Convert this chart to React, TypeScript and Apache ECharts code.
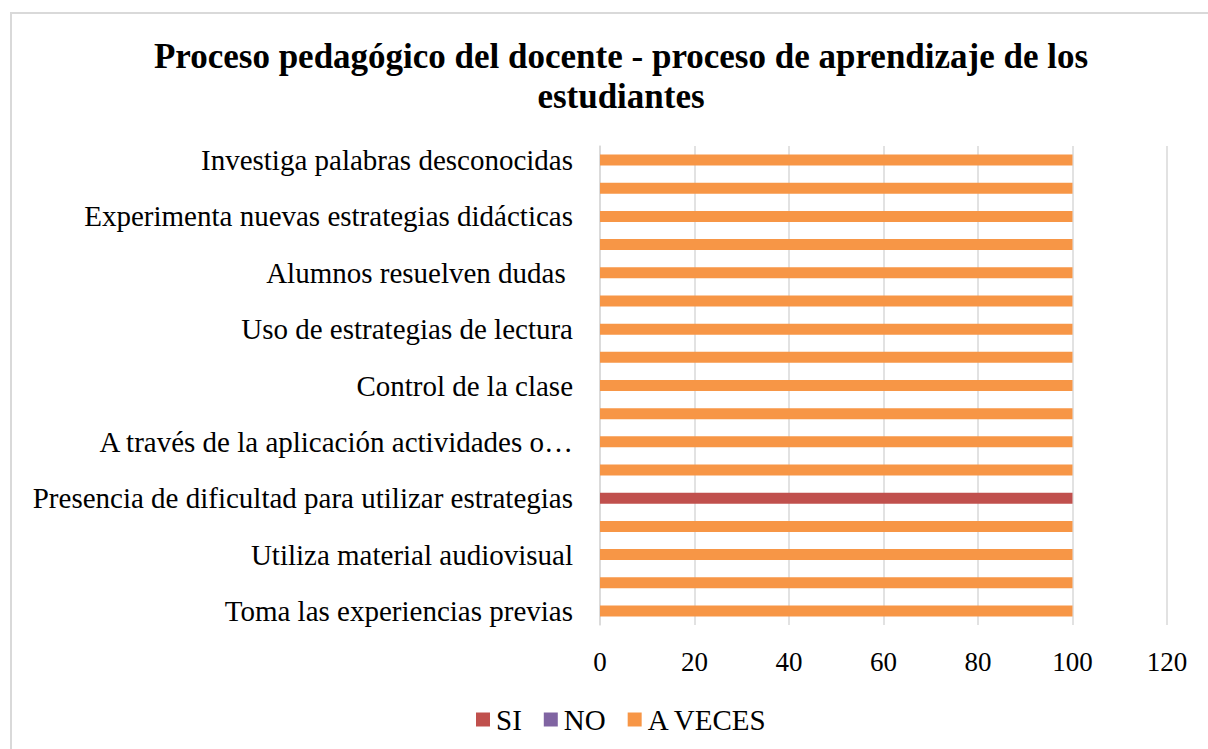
import React, { useEffect, useRef } from "react";
import * as echarts from "echarts";

const categories = [
  "Toma las experiencias previas",
  "",
  "Utiliza material audiovisual",
  "",
  "Presencia de dificultad para utilizar estrategias",
  "",
  "A través de la aplicación actividades o…",
  "",
  "Control de la clase",
  "",
  "Uso de estrategias de lectura",
  "",
  "Alumnos resuelven dudas ",
  "",
  "Experimenta nuevas estrategias didácticas",
  "",
  "Investiga palabras desconocidas",
];

const siValues = [0, 0, 0, 0, 100, 0, 0, 0, 0, 0, 0, 0, 0, 0, 0, 0, 0];
const noValues = [0, 0, 0, 0, 0, 0, 0, 0, 0, 0, 0, 0, 0, 0, 0, 0, 0];
const aVecesValues = [100, 100, 100, 100, 0, 100, 100, 100, 100, 100, 100, 100, 100, 100, 100, 100, 100];

const seriesNames = ["SI", "NO", "A VECES"];
const colors = ["#C0504D", "#8064A2", "#F79646"];

const FONT = "'Liberation Serif', 'Times New Roman', serif";

export default function App() {
  const ref = useRef<HTMLDivElement>(null);
  useEffect(() => {
    if (!ref.current) return;
    const chart = echarts.init(ref.current, undefined, { renderer: "svg" });
    const data = [siValues, noValues, aVecesValues];
    chart.setOption({
      animation: false,
      backgroundColor: "#ffffff",
      title: {
        text: "Proceso pedagógico del docente - proceso de aprendizaje de los\nestudiantes",
        left: 616,
        top: 31,
        textAlign: "center",
        textStyle: {
          fontFamily: FONT,
          fontSize: 35,
          fontWeight: "bold",
          color: "#000",
          lineHeight: 40,
        },
      },
      graphic: [
        {
          type: "rect",
          shape: { x: 11, y: 13, width: 1260, height: 800 },
          style: { fill: "none", stroke: "#d9d9d9", lineWidth: 2 },
          silent: true,
        },
      ],
      legend: {
        data: seriesNames,
        left: 471,
        top: 700,
        itemWidth: 14,
        itemHeight: 14,
        itemGap: 22,
        icon: "rect",
        textStyle: { fontFamily: FONT, fontSize: 29, color: "#000", padding: [0, 0, 0, 1] },
      },
      grid: { left: 600, right: 41, top: 146, bottom: 124, containLabel: false },
      xAxis: {
        type: "value",
        min: 0,
        max: 120,
        interval: 20,
        axisLine: { show: false },
        axisTick: { show: false },
        splitLine: { show: true, lineStyle: { color: "#d9d9d9", width: 1.5 } },
        axisLabel: { fontFamily: FONT, fontSize: 27, color: "#000", margin: 23 },
      },
      yAxis: {
        type: "category",
        data: categories,
        axisLine: { show: true, lineStyle: { color: "#d9d9d9", width: 1.5 } },
        axisTick: { show: false },
        axisLabel: { interval: 1, fontFamily: FONT, fontSize: 29, color: "#000", margin: 27 },
      },
      series: seriesNames.map((name, i) => ({
        name,
        type: "bar",
        stack: "total",
        barWidth: 11,
        itemStyle: { color: colors[i] },
        data: data[i],
      })),
    });
    return () => chart.dispose();
  }, []);
  return (
    <div
      ref={ref}
      style={{ position: "fixed", left: 0, top: 0, width: 1208, height: 749 }}
    />
  );
}
